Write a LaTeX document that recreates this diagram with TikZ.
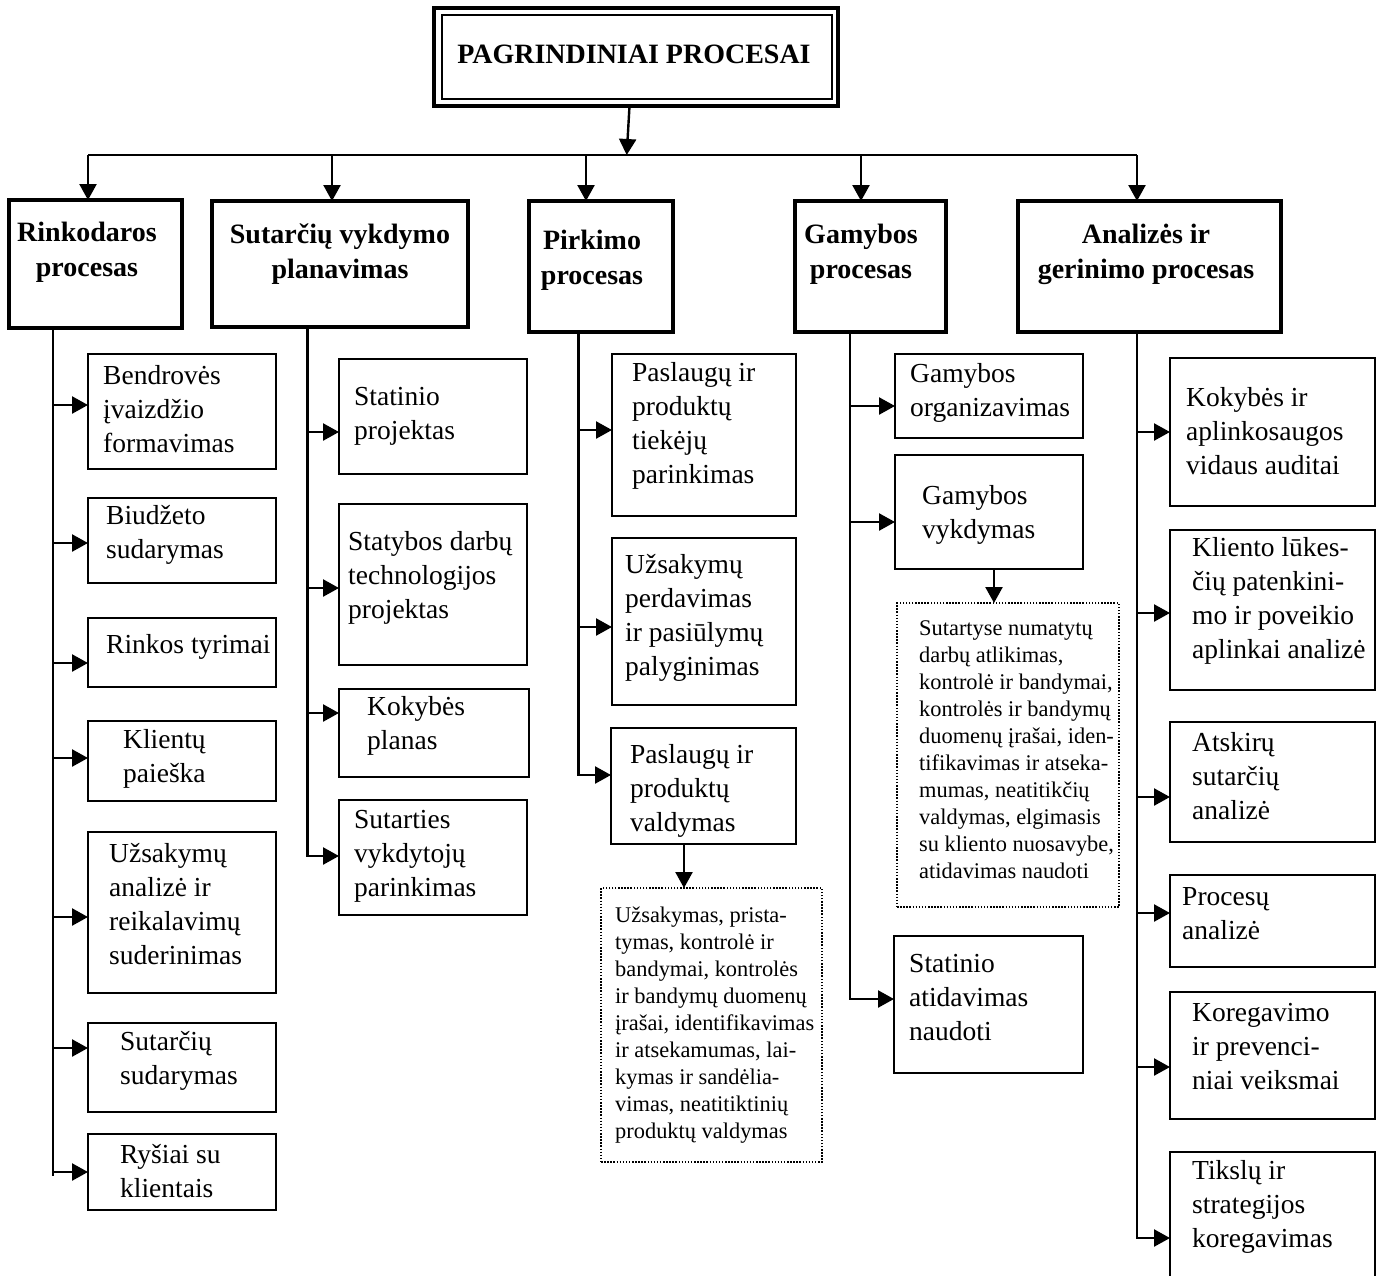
\documentclass[tikz,border=0pt]{standalone}
\usepackage{fontspec}
\setmainfont{Liberation Serif}[Ligatures=CommonOff]
\usetikzlibrary{arrows.meta}
% box from corner (x1,y1) to corner (x2,y2): style, name, x1, y1, x2, y2
\newcommand\mkbox[6]{\node[#1,minimum width={#5-#3},minimum height={#6-#4}] (#2) at ({(#3+#5)/2},{(#4+#6)/2}) {};}
\begin{document}
\begin{tikzpicture}[x=1pt,y=-1pt,
  ln/.style={line width=2.4pt},
  arr/.style={line width=2.4pt,-{Triangle[length=16pt,width=17pt]}},
  hbox/.style={draw,line width=4pt,inner sep=0pt,outer sep=0pt},
  cbox/.style={draw,line width=2.4pt,inner sep=0pt,outer sep=0pt},
  nbox/.style={draw,line width=1.5pt,dash pattern=on 1.5pt off 1.6pt,inner sep=0pt,outer sep=0pt},
  htxt/.style={font=\fontsize{28}{35}\selectfont\bfseries,align=center,inner sep=0pt},
  txt/.style={font=\fontsize{27.5}{34}\selectfont,align=left,inner sep=0pt,anchor=west},
  ntxt/.style={font=\fontsize{22.4}{27}\selectfont,align=left,inner sep=0pt,anchor=west},
]
\useasboundingbox (0,0) rectangle (1376,1275);

% ---- title box with double border
\mkbox{draw,line width=3.5pt,inner sep=0pt,outer sep=0pt}{top}{434}{8}{838}{106}
\mkbox{draw,line width=2.5pt,inner sep=0pt,outer sep=0pt}{topin}{442}{15}{832}{99}
\node[htxt] (ttl) at (634,54) {PAGRINDINIAI PROCESAI};

% ---- distribution bus
\coordinate (t0) at (626.7,155);
\coordinate (d1) at (88,155);
\coordinate (d2) at (332,155);
\coordinate (d3) at (586,155);
\coordinate (d4) at (861,155);
\coordinate (d5) at (1137,155);
\draw[arr] ([xshift=-6.5pt]top.south) -- (t0);
\draw[ln] (d1) -- (d5);

% ---- process headers
\mkbox{hbox}{rk}{9}{200}{182}{328}
\mkbox{hbox}{sv}{212}{201}{468}{327}
\mkbox{hbox}{pk}{529}{201}{673}{332}
\mkbox{hbox}{gm}{795}{201}{946}{332}
\mkbox{hbox}{an}{1018}{201}{1281}{332}
\node[htxt] (rkt) at (87,252) {Rinkodaros\\procesas};
\node[htxt] (svt) at (340,254) {Sutarčių vykdymo\\planavimas};
\node[htxt] (pkt) at (592,260) {Pirkimo\\procesas};
\node[htxt] (gmt) at (861,254) {Gamybos\\procesas};
\node[htxt] (ant) at (1146,254) {Analizės ir\\gerinimo procesas};
\draw[arr] (d1) -- (d1 |- rk.north);
\draw[arr] (d2) -- (d2 |- sv.north);
\draw[arr] (d3) -- (d3 |- pk.north);
\draw[arr] (d4) -- (d4 |- gm.north);
\draw[arr] (d5) -- (d5 |- an.north);

% ---- Rinkodaros procesas
\mkbox{cbox}{b1}{88}{354}{276}{469}
\mkbox{cbox}{b2}{88}{498}{276}{583}
\mkbox{cbox}{b3}{88}{618}{276}{687}
\mkbox{cbox}{b4}{88}{721}{276}{801}
\mkbox{cbox}{b5}{88}{832}{276}{993}
\mkbox{cbox}{b6}{88}{1023}{276}{1112}
\mkbox{cbox}{b7}{88}{1134}{276}{1210}
\node[txt] (b1t) at (103,409) {Bendrovės\\įvaizdžio\\formavimas};
\node[txt] (b2t) at (106,535) {Biudžeto\\sudarymas};
\node[txt] (b3t) at (106,647) {Rinkos tyrimai};
\node[txt] (b4t) at (123,759) {Klientų\\paieška};
\node[txt] (b5t) at (109,904) {Užsakymų\\analizė ir\\reikalavimų\\suderinimas};
\node[txt] (b6t) at (120,1061) {Sutarčių\\sudarymas};
\node[txt] (b7t) at (120,1171) {Ryšiai su\\klientais};
\coordinate (e1) at (53,1176);
\draw[ln] (e1 |- rk.south) -- (e1);
\foreach \n/\y in {1/405,2/543,3/663,4/758,5/917,6/1048,7/1172}{
  \coordinate (j1\n) at (53,\y);
  \draw[arr] (j1\n) -- (j1\n -| b\n.west);
}

% ---- Sutarčių vykdymo planavimas
\mkbox{cbox}{s1}{339}{359}{527}{474}
\mkbox{cbox}{s2}{339}{504}{527}{665}
\mkbox{cbox}{s3}{339}{689}{529}{777}
\mkbox{cbox}{s4}{339}{800}{527}{915}
\node[txt] (s1t) at (354,416) {Statinio\\projektas};
\node[txt] (s2t) at (348,578) {Statybos darbų\\technologijos\\projektas};
\node[txt] (s3t) at (367,726) {Kokybės\\planas};
\node[txt] (s4t) at (354,856) {Sutarties\\vykdytojų\\parinkimas};
\foreach \n/\y in {1/432,2/588,3/713,4/856}{
  \coordinate (j2\n) at (307.5,\y);
}
\draw[arr] (j24 |- sv.south) -- (j24) -- (j24 -| s4.west);
\foreach \n in {1,2,3}{
  \draw[arr] (j2\n) -- (j2\n -| s\n.west);
}

% ---- Pirkimo procesas
\mkbox{cbox}{p1}{612}{354}{796}{516}
\mkbox{cbox}{p2}{612}{538}{796}{705}
\mkbox{cbox}{p3}{611}{728}{796}{844}
\mkbox{nbox}{p4}{601}{888}{822}{1162}
\node[txt] (p1t) at (632,426) {Paslaugų ir\\produktų\\tiekėjų\\parinkimas};
\node[txt] (p2t) at (625,618) {Užsakymų\\perdavimas\\ir pasiūlymų\\palyginimas};
\node[txt] (p3t) at (630,791) {Paslaugų ir\\produktų\\valdymas};
\node[ntxt] (p4t) at (615,1025) {Užsakymas, prista-\\tymas, kontrolė ir\\bandymai, kontrolės\\ir bandymų duomenų\\įrašai, identifikavimas\\ir atsekamumas, lai-\\kymas ir sandėlia-\\vimas, neatitiktinių\\produktų valdymas};
\foreach \n/\y in {1/430,2/627,3/775}{
  \coordinate (j3\n) at (578.5,\y);
}
\draw[arr] (j33 |- pk.south) -- (j33) -- (j33 -| p3.west);
\foreach \n in {1,2}{
  \draw[arr] (j3\n) -- (j3\n -| p\n.west);
}
\coordinate (q1) at (684,888);
\draw[arr] (q1 |- p3.south) -- (q1);

% ---- Gamybos procesas
\mkbox{cbox}{g1}{895}{354}{1083}{438}
\mkbox{cbox}{g2}{895}{455}{1083}{569}
\mkbox{nbox}{g3}{897}{603}{1119}{907}
\mkbox{cbox}{g4}{894}{936}{1083}{1073}
\node[txt] (g1t) at (910,393) {Gamybos\\organizavimas};
\node[txt] (g2t) at (922,515) {Gamybos\\vykdymas};
\node[ntxt] (g3t) at (919,750) {Sutartyse numatytų\\darbų atlikimas,\\kontrolė ir bandymai,\\kontrolės ir bandymų\\duomenų įrašai, iden-\\tifikavimas ir atseka-\\mumas, neatitikčių\\valdymas, elgimasis\\su kliento nuosavybe,\\atidavimas naudoti};
\node[txt] (g4t) at (909,998) {Statinio\\atidavimas\\naudoti};
\foreach \n/\y in {1/406,2/522,4/999}{
  \coordinate (j4\n) at (850,\y);
}
\draw[arr] (j44 |- gm.south) -- (j44) -- (j44 -| g4.west);
\foreach \n in {1,2}{
  \draw[arr] (j4\n) -- (j4\n -| g\n.west);
}
\coordinate (q2) at (994,603);
\draw[arr] (q2 |- g2.south) -- (q2);

% ---- Analizės ir gerinimo procesas
\mkbox{cbox}{a1}{1170}{358}{1375}{506}
\mkbox{cbox}{a2}{1170}{530}{1375}{690}
\mkbox{cbox}{a3}{1170}{722}{1375}{842}
\mkbox{cbox}{a4}{1170}{875}{1375}{967}
\mkbox{cbox}{a5}{1170}{992}{1375}{1119}
\mkbox{cbox}{a6}{1170}{1152}{1375}{1300}
\node[txt] (a1t) at (1186,431) {Kokybės ir\\aplinkosaugos\\vidaus auditai};
\node[txt] (a2t) at (1192,601) {Kliento lūkes-\\čių patenkini-\\mo ir poveikio\\aplinkai analizė};
\node[txt] (a3t) at (1192,776) {Atskirų\\sutarčių\\analizė};
\node[txt] (a4t) at (1182,914) {Procesų\\analizė};
\node[txt] (a5t) at (1192,1047) {Koregavimo\\ir prevenci-\\niai veiksmai};
\node[txt] (a6t) at (1192,1207) {Tikslų ir\\strategijos\\koregavimas};
\foreach \n/\y in {1/432,2/613,3/797,4/913,5/1067,6/1238}{
  \coordinate (j5\n) at (1137,\y);
}
\draw[arr] (j56 |- an.south) -- (j56) -- (j56 -| a6.west);
\foreach \n in {1,2,3,4,5}{
  \draw[arr] (j5\n) -- (j5\n -| a\n.west);
}
\end{tikzpicture}
\end{document}
